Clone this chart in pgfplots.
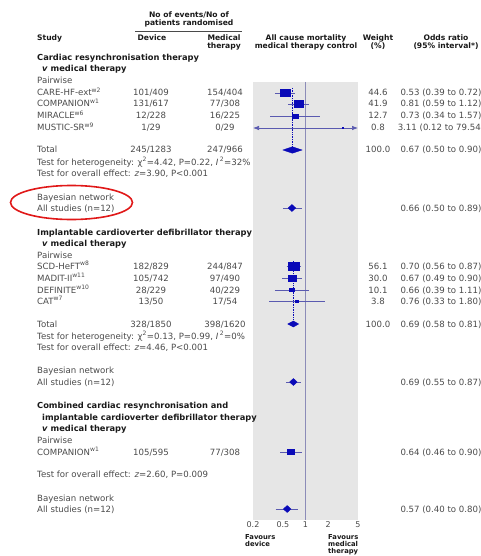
\documentclass[border=0pt]{standalone}
\usepackage{pgfplots}
\pgfplotsset{compat=1.18}
\usepackage{fontspec}
\setmainfont{DejaVu Sans}
\usetikzlibrary{arrows.meta}

\definecolor{panel}{HTML}{E6E6E6}
\definecolor{sq}{HTML}{0A0AB8}
\definecolor{ci}{HTML}{5A5AB0}
\definecolor{refl}{HTML}{8C8CB8}
\definecolor{txt}{HTML}{4A4A4A}
\definecolor{ring}{HTML}{E01818}

% y is the row centre in pixels from the top
\newcommand{\rowtext}[6]{%
  \node[body, anchor=base west] at (37,{-(#1+3)}) {#2};
  \node[body, anchor=base] at (151,{-(#1+3)}) {#3};
  \node[body, anchor=base] at (225,{-(#1+3)}) {#4};
  \node[body, anchor=base] at (378,{-(#1+3)}) {#5};
  \node[body, anchor=base] at (441,{-(#1+3)}) {#6};
}
\newcommand{\lefttext}[3][37]{\node[body, anchor=base west] at (#1,{-(#2+3)}) {#3};}
\newcommand{\headtext}[3][37]{\node[sect, anchor=base west] at (#1,{-(#2+3)}) {#3};}
\newcommand{\ortext}[2]{\node[body, anchor=base] at (441,{-(#1+3)}) {#2};}
\newcommand{\w}[1]{\textsuperscript{w#1}}

\begin{document}
\begin{tikzpicture}[x=1pt, y=1pt,
  body/.style={font=\fontsize{8.6}{10}\selectfont, text=txt, inner sep=0pt},
  sect/.style={font=\fontsize{8.3}{10}\selectfont\bfseries, text=black!90, inner sep=0pt},
  hdr/.style={font=\fontsize{7.6}{9}\selectfont\bfseries, text=black!90, inner sep=0pt},
  fav/.style={font=\fontsize{6.8}{7}\selectfont\bfseries, text=black!90, inner sep=0pt, align=left}]
\begin{scope}
\clip (0,0) rectangle (481,-556);

\begin{axis}[
  at={(253pt,-520pt)}, anchor=south west,
  scale only axis, width=105pt, height=438pt,
  xmode=log, xmin=0.2, xmax=5, ymin=-520, ymax=-82,
  axis background/.style={fill=panel},
  axis line style={draw=none},
  ytick=\empty,
  xtick={0.2,0.5,1,2,5}, xticklabels={0.2,0.5,1,2,5},
  major tick length=0pt,
  xticklabel style={font=\fontsize{8}{9}\selectfont, text=txt, inner sep=1pt},
  clip=false,
]
% line of no effect
\addplot[refl, line width=0.6pt] coordinates {(1,-82) (1,-520)};

% pooled estimates, dotted
\addplot[sq, densely dotted, line width=0.7pt] coordinates {(0.67,-88) (0.67,-150)};
\addplot[sq, densely dotted, line width=0.7pt] coordinates {(0.69,-261) (0.69,-324)};

% confidence intervals
\addplot[ci, line width=0.7pt] coordinates {(0.39,-93) (0.72,-93)};
\addplot[ci, line width=0.7pt] coordinates {(0.59,-104) (1.12,-104)};
\addplot[ci, line width=0.7pt] coordinates {(0.34,-116) (1.57,-116)};
\addplot[ci, line width=0.7pt, {Latex[length=6pt,width=4.5pt]}-{Latex[length=6pt,width=4.5pt]}] coordinates {(0.2,-128) (5,-128)};
\addplot[ci, line width=0.7pt] coordinates {(0.50,-208) (0.89,-208)};
\addplot[ci, line width=0.7pt] coordinates {(0.56,-266) (0.87,-266)};
\addplot[ci, line width=0.7pt] coordinates {(0.49,-278) (0.90,-278)};
\addplot[ci, line width=0.7pt] coordinates {(0.39,-290) (1.11,-290)};
\addplot[ci, line width=0.7pt] coordinates {(0.33,-301) (1.80,-301)};
\addplot[ci, line width=0.7pt] coordinates {(0.55,-382) (0.87,-382)};
\addplot[ci, line width=0.7pt] coordinates {(0.46,-452) (0.90,-452)};
\addplot[ci, line width=0.7pt] coordinates {(0.40,-509) (0.80,-509)};

% study squares, area by weight
\addplot[only marks, mark=square*, mark size=5.0, mark options={sq, yscale=0.72}] coordinates {(0.53,-93)};
\addplot[only marks, mark=square*, mark size=4.85, mark options={sq, yscale=0.72}] coordinates {(0.81,-104)};
\addplot[only marks, mark=square*, mark size=2.7, mark options={sq, yscale=0.72}] coordinates {(0.73,-116)};
\addplot[only marks, mark=square*, mark size=0.7, mark options={sq, yscale=0.72}] coordinates {(3.11,-128)};
\addplot[only marks, mark=square*, mark size=5.6, mark options={sq, yscale=0.72}] coordinates {(0.70,-266)};
\addplot[only marks, mark=square*, mark size=4.2, mark options={sq, yscale=0.72}] coordinates {(0.67,-278)};
\addplot[only marks, mark=square*, mark size=2.3, mark options={sq, yscale=0.72}] coordinates {(0.66,-290)};
\addplot[only marks, mark=square*, mark size=1.2, mark options={sq, yscale=0.72}] coordinates {(0.76,-301)};
\addplot[only marks, mark=square*, mark size=3.6, mark options={sq, yscale=0.72}] coordinates {(0.64,-452)};

% pooled diamonds
\addplot[draw=sq, fill=sq] coordinates {(0.50,-150) (0.67,-146.8) (0.90,-150) (0.67,-153.2)} -- cycle;
\addplot[draw=sq, fill=sq] coordinates {(0.58,-324) (0.69,-321) (0.81,-324) (0.69,-327)} -- cycle;

% Bayesian network estimates
\addplot[only marks, mark=diamond*, mark size=3.5, mark options={sq, xscale=1.45}] coordinates {(0.66,-208) (0.69,-382) (0.57,-509)};
\end{axis}

% header
\node[hdr, anchor=base] at (189,-18) {No of events/No of};
\node[hdr, anchor=base] at (189,-26) {patients randomised};
\draw[txt, line width=0.6pt] (135,-31) -- (242,-31);
\node[hdr, anchor=base west] at (37,-41) {Study};
\node[hdr, anchor=base] at (152,-41) {Device};
\node[hdr, anchor=base] at (224,-41) {Medical};
\node[hdr, anchor=base] at (224,-49) {therapy};
\node[hdr, anchor=base] at (306,-41) {All cause mortality};
\node[hdr, anchor=base] at (306,-49) {medical therapy control};
\node[hdr, anchor=base] at (378,-41) {Weight};
\node[hdr, anchor=base] at (378,-49) {(\%)};
\node[hdr, anchor=base] at (446,-41) {Odds ratio};
\node[hdr, anchor=base] at (446,-49) {(95\% interval*)};

% cardiac resynchronisation therapy
\headtext{58}{Cardiac resynchronisation therapy}
\headtext[42]{69}{\textit{v} medical therapy}
\lefttext{81}{Pairwise}
\rowtext{93}{CARE-HF-ext\w{2}}{101/409}{154/404}{44.6}{0.53 (0.39 to 0.72)}
\rowtext{104}{COMPANION\w{1}}{131/617}{77/308}{41.9}{0.81 (0.59 to 1.12)}
\rowtext{116}{MIRACLE\w{6}}{12/228}{16/225}{12.7}{0.73 (0.34 to 1.57)}
\rowtext{128}{MUSTIC-SR\w{9}}{1/29}{0/29}{0.8}{3.11 (0.12 to 79.54)}
\rowtext{150}{Total}{245/1283}{247/966}{100.0}{0.67 (0.50 to 0.90)}
\lefttext{162}{Test for heterogeneity: χ\textsuperscript{2}=4.42, P=0.22, \textit{I}\,\textsuperscript{2}=32\%}
\lefttext{173}{Test for overall effect: \textit{z}=3.90, P<0.001}
\lefttext{197}{Bayesian network}
\lefttext{208}{All studies (n=12)}
\ortext{208}{0.66 (0.50 to 0.89)}
\draw[ring, line width=1.6pt] (71.5,-202.5) ellipse [x radius=61, y radius=17];

% implantable cardioverter defibrillator therapy
\headtext{232}{Implantable cardioverter defibrillator therapy}
\headtext[42]{243}{\textit{v} medical therapy}
\lefttext{255}{Pairwise}
\rowtext{266}{SCD-HeFT\w{8}}{182/829}{244/847}{56.1}{0.70 (0.56 to 0.87)}
\rowtext{278}{MADIT-II\w{11}}{105/742}{97/490}{30.0}{0.67 (0.49 to 0.90)}
\rowtext{290}{DEFINITE\w{10}}{28/229}{40/229}{10.1}{0.66 (0.39 to 1.11)}
\rowtext{301}{CAT\w{7}}{13/50}{17/54}{3.8}{0.76 (0.33 to 1.80)}
\rowtext{324}{Total}{328/1850}{398/1620}{100.0}{0.69 (0.58 to 0.81)}
\lefttext{336}{Test for heterogeneity: χ\textsuperscript{2}=0.13, P=0.99, \textit{I}\,\textsuperscript{2}=0\%}
\lefttext{347}{Test for overall effect: \textit{z}=4.46, P<0.001}
\lefttext{370}{Bayesian network}
\lefttext{382}{All studies (n=12)}
\ortext{382}{0.69 (0.55 to 0.87)}

% combined
\headtext{405}{Combined cardiac resynchronisation and}
\headtext[42]{417}{implantable cardioverter defibrillator therapy}
\headtext[42]{428}{\textit{v} medical therapy}
\lefttext{440}{Pairwise}
\rowtext{452}{COMPANION\w{1}}{105/595}{77/308}{}{0.64 (0.46 to 0.90)}
\lefttext{474}{Test for overall effect: \textit{z}=2.60, P=0.009}
\lefttext{498}{Bayesian network}
\lefttext{509}{All studies (n=12)}
\ortext{509}{0.57 (0.40 to 0.80)}

% favours
\node[fav, anchor=north west] at (245,-534) {Favours\\device};
\node[fav, anchor=north west] at (328,-534) {Favours\\medical\\therapy};
\end{scope}
\pgfresetboundingbox
\path[use as bounding box] (0,0) rectangle (481,-556);
\end{tikzpicture}
\end{document}
